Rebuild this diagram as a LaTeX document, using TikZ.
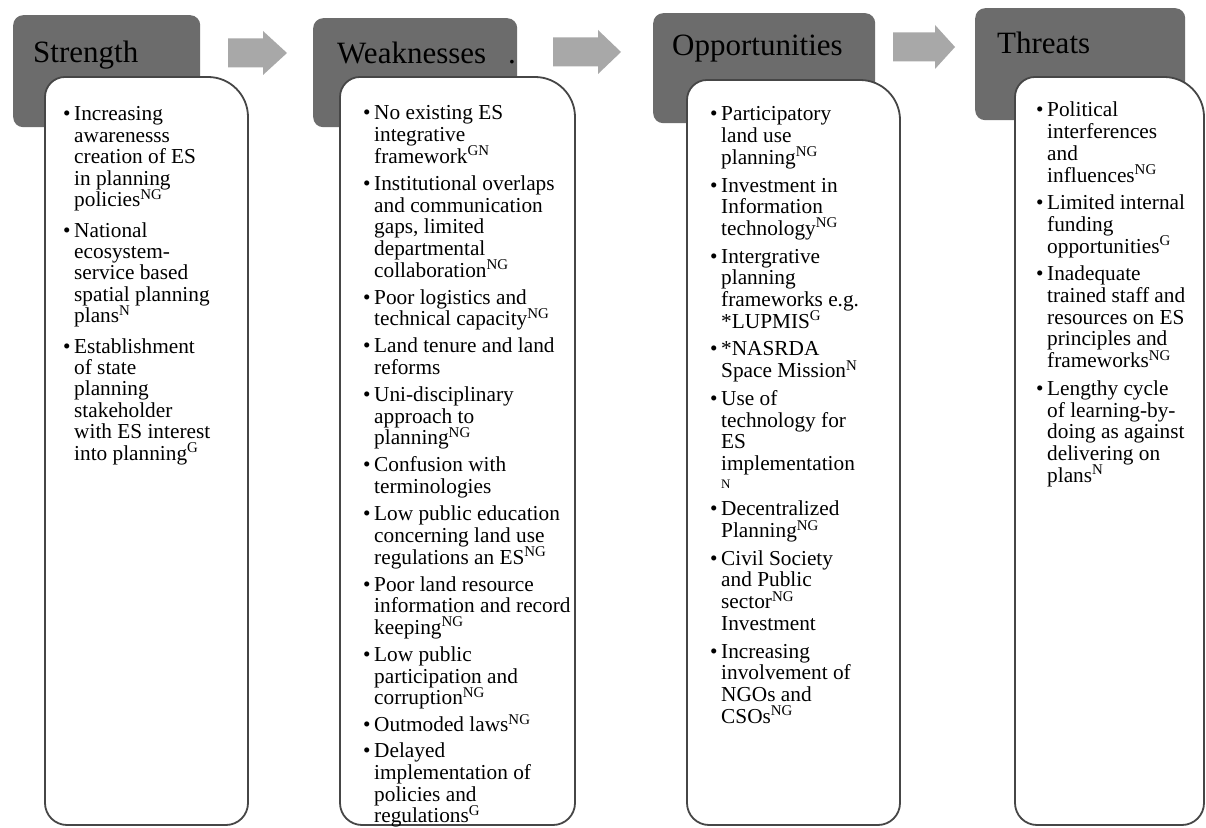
\documentclass[tikz,border=0pt]{standalone}
\usepackage{fontspec}
\setmainfont{Liberation Serif}
\definecolor{hdr}{RGB}{108,108,108}
\definecolor{arr}{RGB}{168,168,168}
\definecolor{bline}{RGB}{70,70,70}
\newlength\itgap
\newcommand\sps[1]{\smash{\textsuperscript{#1}}}
\newcommand\itm[1]{\makebox[11pt][l]{\textbullet}\begin{tabular}[t]{@{}l@{}}#1\end{tabular}\par\vspace{\itgap}}
% #1 baselineskip, #2 gap between items, #3 items
\newcommand\colbody[3]{\begin{minipage}[t]{230pt}\fontsize{21.3}{#1}\selectfont\setlength\itgap{#2}#3\end{minipage}}
\tikzset{
  hdrbox/.style={fill=hdr, rounded corners=10pt, draw=none, inner sep=0pt, anchor=north west},
  hdrtext/.style={anchor=base west, inner sep=0pt, font=\fontsize{31}{31}\selectfont},
  bodyline/.style={draw=bline, line width=1.8pt, fill=white},
  blocktext/.style={anchor=base west, inner sep=0pt},
  blockarrow/.style={fill=arr, draw=none}
}
% body: L T R B (pixel coordinates measured from top)
\newcommand\bodypath[4]{%
  \path[bodyline] (#1,{827-#4+22}) -- (#1,{827-#2-20})
    arc[start angle=180,end angle=90,radius=20pt] -- ({#3-40},{827-#2})
    arc[start angle=90,end angle=0,radius=40pt] -- (#3,{827-#4+22})
    arc[start angle=0,end angle=-90,radius=22pt] -- ({#1+22},{827-#4})
    arc[start angle=270,end angle=180,radius=22pt] -- cycle;}
% block arrow: x0 xhead xtip ycenter (from top)
\newcommand\blockarr[4]{%
  \fill[blockarrow] (#1,{827-#4+14.5}) -- (#2,{827-#4+14.5}) -- (#2,{827-#4+22}) -- (#3,{827-#4})
    -- (#2,{827-#4-22}) -- (#2,{827-#4-14.5}) -- (#1,{827-#4-14.5}) -- cycle;}
\begin{document}
\begin{tikzpicture}[x=1pt,y=1pt]
\useasboundingbox (0,0) rectangle (1206,827);
\fill[white] (0,0) rectangle (1206,827);

% arrows
\blockarr{228}{263}{287}{53}
\blockarr{553}{598}{621}{52}
\blockarr{893}{935}{955}{47}

% headers
\node[hdrbox, minimum width=187pt, minimum height=112pt] (hS) at (13,{827-15}) {};
\node[hdrbox, minimum width=204pt, minimum height=109pt] (hW) at (313,{827-18}) {};
\node[hdrbox, minimum width=222pt, minimum height=110pt] (hO) at (653,{827-13}) {};
\node[hdrbox, minimum width=210pt, minimum height=112pt] (hT) at (975,{827-8}) {};

\node[hdrtext] (tS) at (33,{827-63}) {Strength};
\node[hdrtext] (tW) at (337,{827-64}) {Weaknesses};
\node[hdrtext] (tWd) at (508,{827-64}) {.};
\node[hdrtext] (tO) at (672,{827-56}) {Opportunities};
\node[hdrtext] (tT) at (997,{827-54}) {Threats};

% bodies
\bodypath{45}{77}{248}{825}
\bodypath{340}{77}{575}{825}
\bodypath{687}{80}{900}{825}
\bodypath{1015}{77}{1204}{825}

% texts
\node[blocktext] (bS) at (63,{827-121}) {\colbody{21.4pt}{8pt}{%
\itm{Increasing\\awarenesss\\creation of ES\\in planning\\policies\sps{NG}}
\itm{National\\ecosystem-\\service based\\spatial planning\\plans\sps{N}}
\itm{Establishment\\of state\\planning\\stakeholder\\with ES interest\\into planning\sps{G}}}};

\node[blocktext] (bW) at (363,{827-120}) {\colbody{21.7pt}{4.3pt}{%
\itm{No existing ES\\integrative\\framework\sps{GN}}
\itm{Institutional overlaps\\and communication\\gaps, limited\\departmental\\collaboration\sps{NG}}
\itm{Poor logistics and\\technical capacity\sps{NG}}
\itm{Land tenure and land\\reforms}
\itm{Uni-disciplinary\\approach to\\planning\sps{NG}}
\itm{Confusion with\\terminologies}
\itm{Low public education\\concerning land use\\regulations an ES\sps{NG}}
\itm{Poor land resource\\information and record\\keeping\sps{NG}}
\itm{Low public\\participation and\\corruption\sps{NG}}
\itm{Outmoded laws\sps{NG}}
\itm{Delayed\\implementation of\\policies and\\regulations\sps{G}}}};

\node[blocktext] (bO) at (710,{827-121}) {\colbody{21.7pt}{5pt}{%
\itm{Participatory\\land use\\planning\sps{NG}}
\itm{Investment in\\Information\\technology\sps{NG}}
\itm{Intergrative\\planning\\frameworks e.g.\\{}*LUPMIS\sps{G}}
\itm{*NASRDA\\Space Mission\sps{N}}
\itm{Use of\\technology for\\ES\\implementation\\[-4pt]{\fontsize{13}{13}\selectfont N}}
\itm{Decentralized\\Planning\sps{NG}}
\itm{Civil Society\\and Public\\sector\sps{NG}\\Investment}
\itm{Increasing\\involvement of\\NGOs and\\CSOs\sps{NG}}}};

\node[blocktext] (bT) at (1036,{827-117}) {\colbody{21.7pt}{5pt}{%
\itm{Political\\interferences\\and\\influences\sps{NG}}
\itm{Limited internal\\funding\\opportunities\sps{G}}
\itm{Inadequate\\trained staff and\\resources on ES\\principles and\\frameworks\sps{NG}}
\itm{Lengthy cycle\\of learning-by-\\doing as against\\delivering on\\plans\sps{N}}}};
\end{tikzpicture}
\end{document}
